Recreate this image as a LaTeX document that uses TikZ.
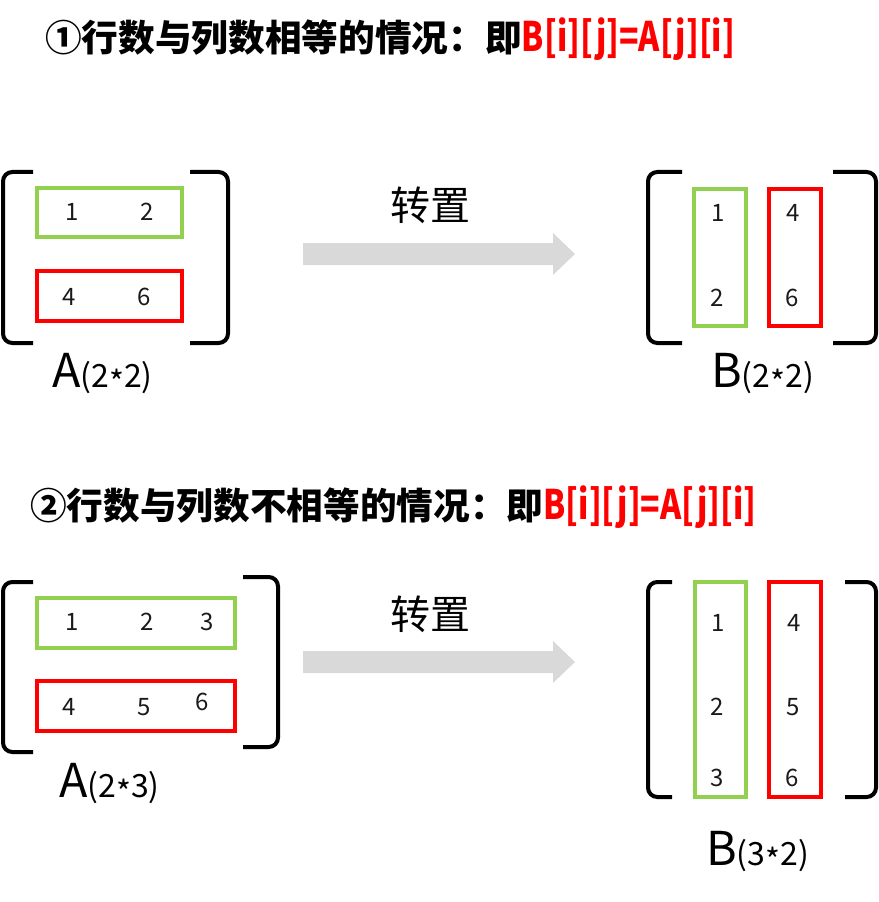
\documentclass[tikz,border=0pt]{standalone}
\usepackage{fontspec}
\usepackage{graphicx}
\setmainfont{Noto Sans CJK SC}
\definecolor{mygreen}{HTML}{92D050}
\definecolor{myred}{HTML}{FF0000}
\definecolor{arrowgray}{HTML}{D9D9D9}
\definecolor{numcol}{HTML}{1A1A1A}
\newcommand{\redpart}{{\color{myred}\fontsize{30.5pt}{32pt}\selectfont\scalebox{0.79}[1]{B[i][j]=A[j][i]}}}
\newcommand{\mlabel}[2]{{\fontsize{35pt}{36pt}\selectfont #1}{\fontsize{24pt}{26pt}\selectfont #2}}
\newcommand{\mystar}{\raisebox{-0.22em}{*}}
\begin{document}
\begin{tikzpicture}[x=0.75pt,y=-0.75pt,
  gbox/.style={draw=mygreen,line width=2.4pt},
  rbox/.style={draw=myred,line width=2.4pt},
  brk/.style={draw=black,line width=3pt,rounded corners=7pt},
  num/.style={font=\fontsize{18pt}{20pt}\selectfont,text=numcol,inner sep=0pt},
  ttl/.style={anchor=base west,inner sep=0pt,font=\bfseries\fontsize{27.5pt}{30pt}\selectfont},
  lbl/.style={anchor=base west,inner sep=0pt},
  zz/.style={font=\fontsize{30pt}{32pt}\selectfont,inner sep=0pt},
  arr/.style={fill=arrowgray}]
\useasboundingbox (0,0) rectangle (878,902);

% ---------- titles ----------
\node[ttl] (t1) at (45,52) {①行数与列数相等的情况：即\redpart};
\node[ttl] (t2) at (30,519) {②行数与列数不相等的情况：即\redpart};

% ---------- part 1: A (2x2) ----------
\draw[brk] (33,172) -- (3,172) -- (3,343) -- (33,343);
\draw[brk] (190,172) -- (228,172) -- (228,343) -- (190,343);
\draw[gbox] (37,188) rectangle (182,237);
\draw[rbox] (37,271) rectangle (182,321);
\node[num] (a11) at (72,212) {1};
\node[num] (a12) at (147,212) {2};
\node[num] (a21) at (69,297) {4};
\node[num] (a22) at (144,297) {6};
\node[lbl] (la1) at (52,387) {\mlabel{A}{(2\mystar2)}};

% arrow 1
\node[zz] (z1) at (430,205) {转置};
\coordinate (p1e) at (575,254);
\fill[arr] (303,243) -- (553,243) -- (553,233) -- (p1e) -- (553,275) -- (553,265) -- (303,265) -- cycle;

% ---------- part 1: B (2x2) ----------
\draw[brk] (682,172) -- (648,172) -- (648,343) -- (682,343);
\draw[brk] (833,172) -- (876,172) -- (876,343) -- (833,343);
\draw[gbox] (694,189) rectangle (746,326);
\draw[rbox] (769,189) rectangle (821,326);
\node[num] (b11) at (718,213) {1};
\node[num] (b21) at (717,298) {2};
\node[num] (b12) at (793,213) {4};
\node[num] (b22) at (792,298) {6};
\node[lbl] (lb1) at (711,387) {\mlabel{B}{(2\mystar2)}};

% ---------- part 2: A (2x3) ----------
\draw[brk] (33,582) -- (3,582) -- (3,752) -- (33,752);
\draw[brk] (243,577) -- (278,577) -- (278,747) -- (243,747);
\draw[gbox] (37,598) rectangle (235,648);
\draw[rbox] (37,681) rectangle (235,731);
\node[num] (c11) at (72,622) {1};
\node[num] (c12) at (147,622) {2};
\node[num] (c13) at (207,622) {3};
\node[num] (c21) at (69,707) {4};
\node[num] (c22) at (144,707) {5};
\node[num] (c23) at (202,702) {6};
\node[lbl] (la2) at (59,797) {\mlabel{A}{(2\mystar3)}};

% arrow 2
\node[zz] (z2) at (430,614) {转置};
\coordinate (p2e) at (575,662);
\fill[arr] (303,651) -- (553,651) -- (553,641) -- (p2e) -- (553,683) -- (553,673) -- (303,673) -- cycle;

% ---------- part 2: B (3x2) ----------
\draw[brk] (672,582) -- (648,582) -- (648,797) -- (672,797);
\draw[brk] (845,582) -- (876,582) -- (876,797) -- (845,797);
\draw[gbox] (695,582) rectangle (746,797);
\draw[rbox] (769,582) rectangle (821,797);
\node[num] (d11) at (718,623) {1};
\node[num] (d21) at (717,707) {2};
\node[num] (d31) at (717,778) {3};
\node[num] (d12) at (794,623) {4};
\node[num] (d22) at (793,707) {5};
\node[num] (d32) at (792,778) {6};
\node[lbl] (lb2) at (706,865) {\mlabel{B}{(3\mystar2)}};
\end{tikzpicture}
\end{document}
